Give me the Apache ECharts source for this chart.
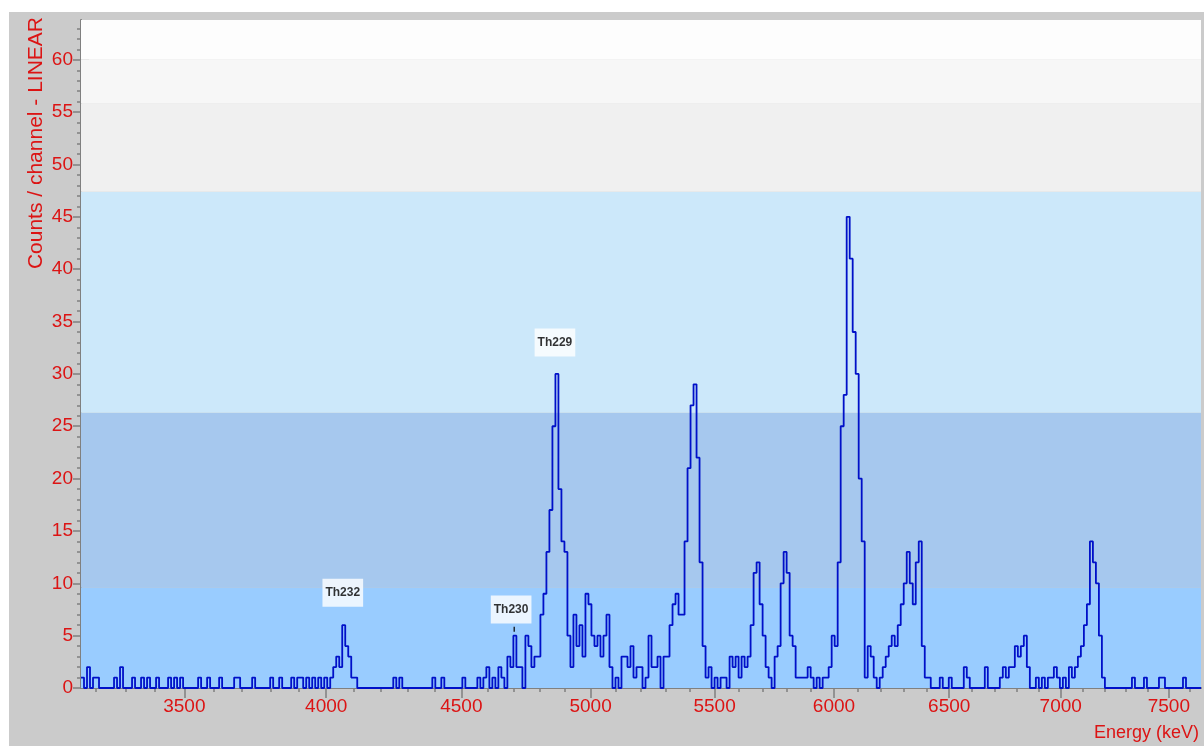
<!DOCTYPE html>
<html>
<head>
<meta charset="utf-8">
<script src="https://cdn.jsdelivr.net/npm/echarts@6/dist/echarts.min.js"></script>
<style>
html,body{margin:0;padding:0;background:#ffffff;}
#c{width:1204px;height:746px;}
</style>
</head>
<body>
<div id="c"></div>
<script>
// ---- data: counts per channel (bin) ----
const counts = [
  1,0,2,0,1,1,0,0,0,0,0,1,0,2,0,0,0,1,0,0,
  1,0,1,0,0,1,0,0,0,1,0,1,0,1,0,0,0,0,0,1,
  0,0,1,0,0,0,1,0,0,0,0,1,1,0,0,0,0,1,0,0,
  0,0,0,1,0,0,1,0,0,0,1,0,1,1,0,1,0,1,0,1,
  0,1,0,1,2,3,2,6,4,3,1,1,0,0,0,0,0,0,0,0,
  0,0,0,0,1,0,1,0,0,0,0,0,0,0,0,0,0,1,0,0,
  1,0,0,0,0,0,0,1,0,0,0,0,1,0,1,2,0,1,0,2,
  1,0,3,2,5,2,2,0,5,4,2,3,3,7,9,13,17,25,30,19,
  14,13,5,2,7,4,6,3,9,8,5,4,5,3,5,7,2,0,1,0,
  3,3,2,4,1,2,2,0,1,5,2,2,3,0,3,3,6,8,9,7,
  7,14,21,27,29,22,12,4,1,2,0,1,0,1,1,0,3,2,3,1,
  3,2,3,6,11,12,8,5,2,1,0,3,4,10,13,11,5,4,1,1,
  1,1,2,1,0,1,0,1,1,2,5,4,12,25,28,45,41,34,30,20,
  14,1,4,3,1,0,1,2,3,4,5,4,6,8,10,13,10,8,12,14,
  4,1,1,0,0,0,1,0,0,1,0,0,0,0,2,1,0,0,0,0,
  0,2,0,0,0,0,1,2,1,2,2,4,3,4,5,2,0,0,1,0,
  1,0,1,1,2,1,0,1,0,2,1,2,3,4,6,8,14,12,10,5,
  1,0,0,0,0,0,0,0,0,0,1,0,0,0,1,0,0,0,0,1,
  1,0,0,0,0,0,0,1,0,0,0,0,0
];
// energy calibration E(ch) = a + b*ch + c*ch^2 (keV)
const calibration = [3152.3, 9.907, 0.005778];

// axis tick labels
const xTickEnergies = [3500, 4000, 4500, 5000, 5500, 6000, 6500, 7000, 7500];
const xTickLabels = ['3500', '4000', '4500', '5000', '5500', '6000', '6500', '7000', '7500'];
const xMinorTickEnergies = [3200,3300,3400,3500,3600,3700,3800,3900,4000,4100,4200,4300,4400,4500,4600,4700,4800,4900,5000,5100,5200,5300,5400,5500,5600,5700,5800,5900,6000,6100,6200,6300,6400,6500,6600,6700,6800,6900,7000,7100,7200,7300,7400,7500,7600];
const yTickValues = [0, 5, 10, 15, 20, 25, 30, 35, 40, 45, 50, 55, 60];
const yMinorTickValues = [1,2,3,4,6,7,8,9,11,12,13,14,16,17,18,19,21,22,23,24,26,27,28,29,31,32,33,34,36,37,38,39,41,42,43,44,46,47,48,49,51,52,53,54,56,57,58,59,61,62,63];
const yMax = 63.8;

// peak annotations
const peakNames = ['Th232', 'Th230', 'Th229'];
const peakEnergies = [4060, 4690, 4860];
const peakLabelHeights = [9.1, 7.5, 33.0];
const pointerEnergies = [4702];
const pointerHeights = [5.6];

// background colour bands (counts)
const bandEdges = [0, 9.6, 26.3, 47.4, 55.8, 60, 63.8];
const bandColors = ['#99CCFF', '#A6C8EE', '#CCE8FA', '#F0F0F0', '#F7F7F7', '#FDFDFD'];

// ---- helpers ----
function channelOf(E) {
  const [a, b, c] = calibration;
  return (-b + Math.sqrt(b * b - 4 * c * (a - E))) / (2 * c);
}
const nCh = counts.length;
const majorCh = xTickEnergies.map(channelOf);
const minorCh = xMinorTickEnergies.map(channelOf);

const RED = '#DC1414';
const GRAY = '#808080';
const FONT = "'Liberation Sans', Arial, sans-serif";

function xAxisDef(position, customTicks, len, lineShow, lineWidth, labels) {
  return {
    type: 'value', position: position, min: 0, max: nCh,
    axisLine: { show: lineShow, lineStyle: { color: GRAY, width: lineWidth } },
    axisTick: { show: true, inside: true, length: len, customValues: customTicks,
                lineStyle: { color: GRAY, width: 1.5 } },
    axisLabel: labels ? {
      show: true, customValues: majorCh, margin: 9, color: RED, fontSize: 19, fontFamily: FONT,
      formatter: function (v) {
        let k = 0, best = Infinity;
        majorCh.forEach(function (c, i) { const d = Math.abs(c - v); if (d < best) { best = d; k = i; } });
        return xTickLabels[k];
      }
    } : { show: false },
    splitLine: { show: false }
  };
}
function yAxisDef(position, customTicks, len, lineShow, lineWidth, labels) {
  return {
    type: 'value', position: position, min: 0, max: yMax,
    axisLine: { show: lineShow, lineStyle: { color: GRAY, width: lineWidth } },
    axisTick: { show: true, inside: true, length: len, customValues: customTicks,
                lineStyle: { color: GRAY, width: 1.5 } },
    axisLabel: labels ? {
      show: true, customValues: yTickValues, margin: 8, color: RED, fontSize: 19, fontFamily: FONT
    } : { show: false },
    splitLine: { show: false }
  };
}

const bands = [];
for (let i = 0; i < bandColors.length; i++) {
  bands.push([
    { yAxis: bandEdges[i], itemStyle: { color: bandColors[i], opacity: 1 } },
    { yAxis: bandEdges[i + 1] }
  ]);
}

const lineData = counts.map(function (v, i) { return [i, v]; });
lineData.push([nCh, counts[nCh - 1]]);

const chart = echarts.init(document.getElementById('c'), null, { renderer: 'canvas' });
chart.setOption({
  animation: false,
  backgroundColor: '#ffffff',
  grid: { left: 81, right: 3, top: 20, bottom: 58, containLabel: false, outerBoundsMode: 'none' },
  graphic: [
    { type: 'rect', z: -10, shape: { x: 9, y: 12, width: 1195, height: 734 }, style: { fill: '#CBCBCB' }, silent: true },
    { type: 'text', x: 36, y: 17, rotation: Math.PI / 2, z: 10,
      style: { text: 'Counts / channel - LINEAR', fill: RED, font: "21px " + FONT,
               textAlign: 'right', textVerticalAlign: 'middle' } },
    { type: 'text', x: 1199, y: 733, z: 10,
      style: { text: 'Energy (keV)', fill: RED, font: "18px " + FONT,
               textAlign: 'right', textVerticalAlign: 'middle' } }
  ],
  xAxis: [
    xAxisDef('bottom', majorCh, 7, true, 2, true),
    xAxisDef('bottom', minorCh, 4, false, 1, false),
    xAxisDef('top', majorCh, 10, true, 1, false),
    xAxisDef('top', minorCh, 4, false, 1, false)
  ],
  yAxis: [
    yAxisDef('left', yTickValues, 8, true, 2, true),
    yAxisDef('left', yMinorTickValues, 4, false, 1, false),
    yAxisDef('right', yTickValues, 8, true, 1, false),
    yAxisDef('right', yMinorTickValues, 4, false, 1, false)
  ],
  series: [
    {
      name: 'spectrum', type: 'line', step: 'end', xAxisIndex: 0, yAxisIndex: 0,
      data: lineData, symbol: 'none', z: 3,
      lineStyle: { color: '#0010C8', width: 1.8 },
      markArea: { silent: true, data: bands }
    },
    {
      name: 'pointer', type: 'scatter', xAxisIndex: 0, yAxisIndex: 0, z: 4, silent: true,
      data: pointerEnergies.map(function (e, i) { return [channelOf(e), pointerHeights[i]]; }),
      symbol: 'rect', symbolSize: [1.5, 5], itemStyle: { color: '#000000' }
    },
    {
      name: 'peaks', type: 'scatter', xAxisIndex: 0, yAxisIndex: 0, z: 5,
      data: peakEnergies.map(function (e, i) { return [channelOf(e), peakLabelHeights[i]]; }),
      symbol: 'rect', symbolSize: 0, silent: true,
      label: {
        show: true, position: 'inside',
        formatter: function (p) { return peakNames[p.dataIndex]; },
        color: '#000', fontWeight: 'bold', fontSize: 12, fontFamily: FONT,
        backgroundColor: '#ffffff', padding: [8, 3, 8, 3]
      }
    }
  ]
});
</script>
</body>
</html>
